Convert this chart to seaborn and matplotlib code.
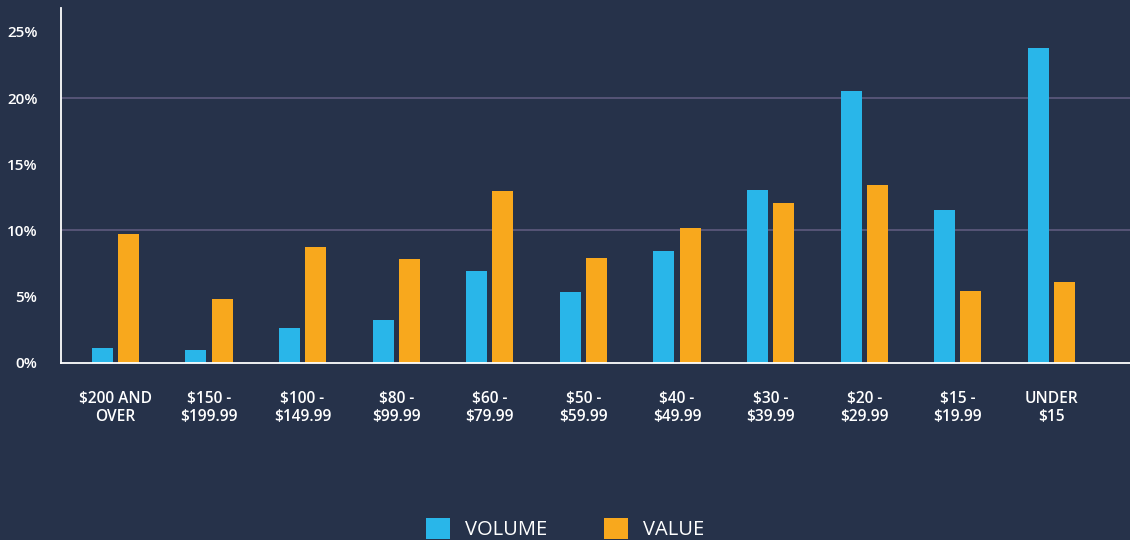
import pandas as pd
import seaborn as sns
import matplotlib.pyplot as plt
import matplotlib.ticker as mtick

bg = "#26324a"
colors = ["#29b6e9", "#f8a81d"]

categories = ["$200 AND\nOVER", "$150 -\n$199.99", "$100 -\n$149.99", "$80 -\n$99.99",
              "$60 -\n$79.99", "$50 -\n$59.99", "$40 -\n$49.99", "$30 -\n$39.99",
              "$20 -\n$29.99", "$15 -\n$19.99", "UNDER\n$15"]
volume = [1.1, 1.0, 2.6, 3.25, 6.95, 5.35, 8.45, 13.05, 20.5, 11.55, 23.8]
value = [9.7, 4.8, 8.75, 7.85, 13.0, 7.9, 10.2, 12.1, 13.4, 5.4, 6.1]

df = pd.DataFrame({
    "price": categories * 2,
    "share": volume + value,
    "series": ["VOLUME"] * len(categories) + ["VALUE"] * len(categories),
})

sns.set_style("dark")
plt.rcParams["font.family"] = ["Open Sans", "DejaVu Sans"]

fig = plt.figure(figsize=(11.3, 5.4), dpi=100, facecolor=bg)
ax = fig.add_axes([0.054, 0.328, 0.946, 0.657])
ax.set_facecolor(bg)

sns.barplot(data=df, x="price", y="share", hue="series", palette=colors,
            width=0.56, gap=0.2, saturation=1, linewidth=0, ax=ax, legend=True)

for y in (10, 20):
    ax.axhline(y, color="#5e5a7e", lw=1.2, zorder=0)

ax.set_xlim(-0.58, 10.84)
ax.set_ylim(0, 26.8)
ax.set_yticks(range(0, 30, 5))
ax.yaxis.set_major_formatter(mtick.FuncFormatter(lambda v, p: f"{int(v)}%"))
ax.tick_params(axis="y", length=0, pad=17, labelsize=11, labelcolor="white")
ax.tick_params(axis="x", length=0, pad=20, labelsize=11.2, labelcolor="white")
for lab in ax.get_xticklabels() + ax.get_yticklabels():
    lab.set_fontweight("semibold")
ax.set_xlabel("")
ax.set_ylabel("")
ax.grid(False)

for side in ("top", "right"):
    ax.spines[side].set_visible(False)
for side in ("left", "bottom"):
    ax.spines[side].set_visible(True)
    ax.spines[side].set_color("white")
    ax.spines[side].set_linewidth(1.3)

handles, labels = ax.get_legend_handles_labels()
ax.get_legend().remove()
leg = fig.legend(handles, labels, loc="center", bbox_to_anchor=(0.5, 0.02), ncol=2,
                 frameon=False, fontsize=14.5, labelcolor="white",
                 handlelength=1.2, handleheight=1.2, handletextpad=0.75,
                 columnspacing=2.8)
for h in leg.legend_handles:
    h.set_linewidth(0)

fig.savefig("out.png", dpi=100, facecolor=bg)
